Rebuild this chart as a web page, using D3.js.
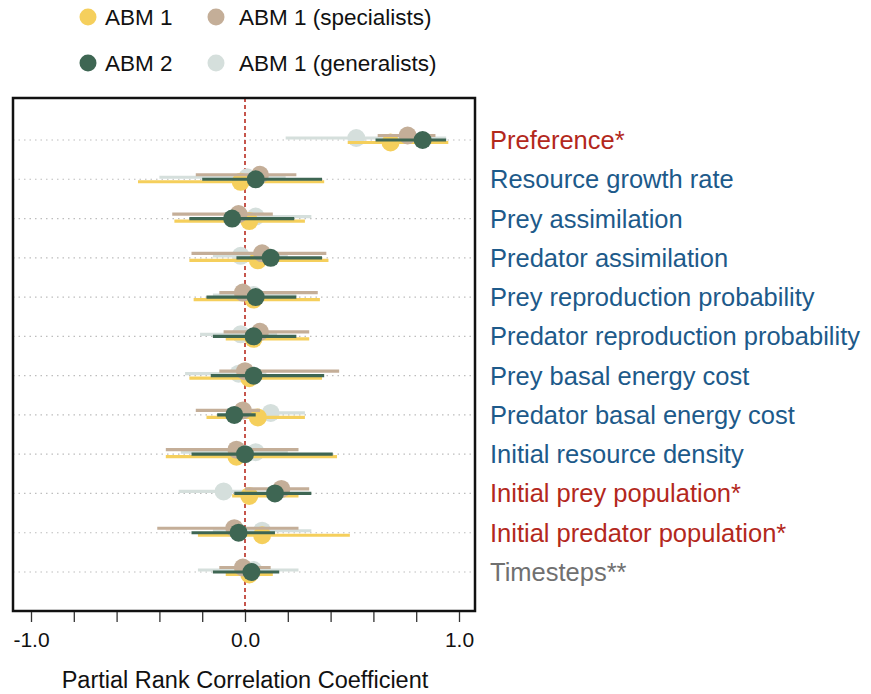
<!DOCTYPE html>
<html>
<head>
<meta charset="utf-8">
<script src="https://cdn.jsdelivr.net/npm/d3@7"></script>
<style>
  body { margin: 0; background: #fff; }
  text { font-family: "Liberation Sans", Arial, sans-serif; }
</style>
</head>
<body>
<svg id="chart" width="871" height="694"></svg>
<script>
const params = ['Preference*', 'Resource growth rate', 'Prey assimilation', 'Predator assimilation',
  'Prey reproduction probability', 'Predator reproduction probability', 'Prey basal energy cost',
  'Predator basal energy cost', 'Initial resource density', 'Initial prey population*',
  'Initial predator population*', 'Timesteps**'];
const paramGroup = ['sig', 'ns', 'ns', 'ns', 'ns', 'ns', 'ns', 'ns', 'ns', 'sig', 'sig', 'other'];

// [estimate, lower, upper]
const abm1 = [[0.68, 0.48, 0.95], [-0.02, -0.50, 0.37], [0.02, -0.33, 0.28], [0.06, -0.26, 0.39],
  [0.04, -0.24, 0.35], [0.04, -0.09, 0.30], [0.02, -0.26, 0.36], [0.06, -0.18, 0.28],
  [-0.04, -0.37, 0.43], [0.02, -0.06, 0.25], [0.08, -0.22, 0.49], [0.02, -0.09, 0.13]];
const specialists = [[0.76, 0.62, 0.89], [0.07, -0.23, 0.24], [-0.03, -0.34, 0.13], [0.08, -0.25, 0.38],
  [-0.01, -0.12, 0.34], [0.07, -0.10, 0.30], [0.00, -0.12, 0.44], [-0.01, -0.23, 0.07],
  [-0.04, -0.37, 0.25], [0.17, 0.00, 0.30], [-0.05, -0.41, 0.25], [-0.01, -0.12, 0.12]];
const generalists = [[0.52, 0.19, 0.94], [0.01, -0.40, 0.19], [0.05, -0.10, 0.31], [-0.02, -0.15, 0.20],
  [0.04, -0.15, 0.24], [-0.02, -0.21, 0.15], [-0.03, -0.28, 0.10], [0.12, -0.05, 0.28],
  [0.05, -0.30, 0.20], [-0.10, -0.31, 0.05], [0.08, -0.15, 0.31], [0.04, -0.22, 0.25]];
const abm2 = [[0.83, 0.61, 0.94], [0.05, -0.20, 0.36], [-0.06, -0.26, 0.23], [0.12, -0.04, 0.36],
  [0.05, -0.18, 0.24], [0.04, -0.15, 0.24], [0.04, -0.16, 0.37], [-0.05, -0.13, 0.05],
  [0.00, -0.25, 0.41], [0.14, -0.05, 0.31], [-0.03, -0.25, 0.14], [0.03, -0.15, 0.16]];

const xTicks = [-1, -0.8, -0.6, -0.4, -0.2, 0, 0.2, 0.4, 0.6, 0.8, 1];
const xTickLabels = ['-1.0', '', '', '', '', '0.0', '', '', '', '', '1.0'];

const series = [
  { name: 'ABM 1 (generalists)', data: generalists, color: '#d5dfdc', dy: -2 },
  { name: 'ABM 1', data: abm1, color: '#f5cf5c', dy: 2.5 },
  { name: 'ABM 1 (specialists)', data: specialists, color: '#c4ae98', dy: -4.5 },
  { name: 'ABM 2', data: abm2, color: '#3e6653', dy: 0 }
];
const labelColor = { sig: '#b3281c', ns: '#1d5a8a', other: '#707070' };

const svg = d3.select('#chart');
const box = { left: 13, right: 475, top: 98, bottom: 611 };

const x = d3.scaleLinear().domain([-1, 1]).range([31, 459]);
const y = d3.scalePoint().domain(params).range([140, 572]);

// dotted row guides
svg.append('g').selectAll('line').data(params).join('line')
  .attr('x1', box.left).attr('x2', box.right)
  .attr('y1', (d) => y(d)).attr('y2', (d) => y(d))
  .attr('stroke', '#bdbdbd').attr('stroke-width', 1.2).attr('stroke-dasharray', '1.5,4');

// zero reference
svg.append('line')
  .attr('x1', x(0)).attr('x2', x(0)).attr('y1', box.top).attr('y2', box.bottom)
  .attr('stroke', '#c0443a').attr('stroke-width', 1.8).attr('stroke-dasharray', '4,3');

series.forEach((s) => {
  const g = svg.append('g');
  g.selectAll('line').data(s.data).join('line')
    .attr('x1', (d) => x(d[1])).attr('x2', (d) => x(d[2]))
    .attr('y1', (d, i) => y(params[i]) + s.dy).attr('y2', (d, i) => y(params[i]) + s.dy)
    .attr('stroke', s.color).attr('stroke-width', 3.2);
  g.selectAll('circle').data(s.data).join('circle')
    .attr('cx', (d) => x(d[0])).attr('cy', (d, i) => y(params[i]) + s.dy)
    .attr('r', 9).attr('fill', s.color);
});

// frame
svg.append('rect')
  .attr('x', box.left).attr('y', box.top)
  .attr('width', box.right - box.left).attr('height', box.bottom - box.top)
  .attr('fill', 'none').attr('stroke', '#111').attr('stroke-width', 2.5);

// x axis
const xAxis = d3.axisBottom(x).tickValues(xTicks).tickSize(10).tickPadding(10)
  .tickFormat((d, i) => xTickLabels[i]);
const ax = svg.append('g').attr('transform', `translate(0,${box.bottom + 1})`).call(xAxis);
ax.select('.domain').remove();
ax.selectAll('.tick line').attr('stroke', '#333').attr('stroke-width', 1.3);
ax.selectAll('.tick text').attr('font-size', 21).attr('fill', '#111')
  .attr('font-family', '"Liberation Sans", Arial, sans-serif');

svg.append('text').attr('x', x(0)).attr('y', 688).attr('text-anchor', 'middle')
  .attr('font-size', 23.5).attr('fill', '#111').text('Partial Rank Correlation Coefficient');

// parameter labels
svg.append('g').selectAll('text').data(params).join('text')
  .attr('x', 490).attr('y', (d) => y(d) + 9)
  .attr('font-size', 25.5)
  .attr('fill', (d, i) => labelColor[paramGroup[i]])
  .text((d) => d);

// legend
const legend = [
  { name: 'ABM 1', color: '#f5cf5c', cx: 88, cy: 17 },
  { name: 'ABM 1 (specialists)', color: '#c4ae98', cx: 216, cy: 17 },
  { name: 'ABM 2', color: '#3e6653', cx: 88, cy: 63 },
  { name: 'ABM 1 (generalists)', color: '#d5dfdc', cx: 216, cy: 63 }
];
const lg = svg.append('g').selectAll('g').data(legend).join('g');
lg.append('circle').attr('cx', (d) => d.cx).attr('cy', (d) => d.cy).attr('r', 8.5)
  .attr('fill', (d) => d.color);
lg.append('text').attr('x', (d) => d.cx + (d.cx > 100 ? 23 : 17)).attr('y', (d) => d.cy + 8)
  .attr('font-size', 22.5).attr('fill', '#111').text((d) => d.name);
</script>
</body>
</html>
